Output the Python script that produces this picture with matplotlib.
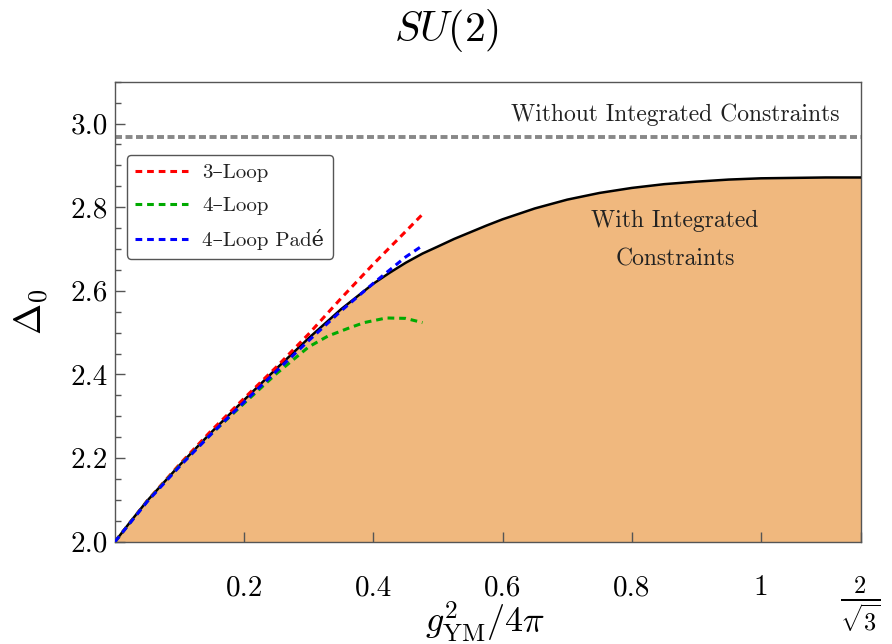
import matplotlib
matplotlib.use('Agg')
import matplotlib.pyplot as plt
from matplotlib.ticker import FixedLocator, FixedFormatter, MultipleLocator

plt.rcParams['mathtext.fontset'] = 'cm'
plt.rcParams['font.family'] = ['cmr10', 'DejaVu Serif']
plt.rcParams['axes.formatter.use_mathtext'] = True

# ---- data ----
g_bound = [0.0, 0.025, 0.05, 0.1, 0.15, 0.2, 0.25, 0.3, 0.35, 0.4, 0.425, 0.45, 0.476, 0.5,
           0.525, 0.55, 0.575, 0.6, 0.65, 0.7, 0.75, 0.8, 0.85, 0.9, 0.95, 1.0, 1.05,
           1.1, 1.1547]
delta_bound = [2.0, 2.050, 2.098, 2.183, 2.263, 2.339, 2.414, 2.487, 2.556, 2.617, 2.643,
               2.667, 2.689, 2.706, 2.724, 2.740, 2.756, 2.771, 2.797, 2.818, 2.834,
               2.846, 2.855, 2.861, 2.866, 2.869, 2.870, 2.871, 2.871]

g_3loop = [0.0, 0.05, 0.1, 0.15, 0.2, 0.25, 0.3, 0.35, 0.4, 0.45, 0.476]
delta_3loop = [2.0, 2.098, 2.185, 2.267, 2.343, 2.418, 2.497, 2.582, 2.664, 2.742, 2.783]

g_4loop = [0.0, 0.05, 0.1, 0.15, 0.2, 0.25, 0.3, 0.33, 0.364, 0.386, 0.42, 0.45, 0.476]
delta_4loop = [2.0, 2.097, 2.182, 2.259, 2.331, 2.402, 2.466, 2.492, 2.512, 2.524,
               2.535, 2.534, 2.524]

g_pade = [0.0, 0.05, 0.1, 0.15, 0.2, 0.25, 0.3, 0.35, 0.4, 0.45, 0.476]
delta_pade = [2.0, 2.096, 2.180, 2.259, 2.334, 2.408, 2.481, 2.552, 2.618, 2.681, 2.708]

delta_no_constraints = 2.968

x_ticks = [0.2, 0.4, 0.6, 0.8, 1.0, 1.1547]
x_ticklabels = ["0.2", "0.4", "0.6", "0.8", "1", r"$\frac{2}{\sqrt{3}}$"]
y_ticks = [2.0, 2.2, 2.4, 2.6, 2.8, 3.0]
y_ticklabels = ["2.0", "2.2", "2.4", "2.6", "2.8", "3.0"]
legend_labels = ["3\u2013Loop", "4\u2013Loop", "4\u2013Loop Pad\u00e9"]

# ---- figure ----
fig = plt.figure(figsize=(8.92, 6.44), dpi=100)
ax = fig.add_axes([0.1289, 0.1589, 0.8363, 0.7142])

fill_color = '#F0B87E'
ax.fill_between(g_bound, 2.0, delta_bound, color=fill_color, lw=0, zorder=1)
ax.plot(g_bound, delta_bound, color='black', lw=1.8, zorder=3, solid_joinstyle='round')

ax.axhline(delta_no_constraints, color='#888888', lw=2.8, dashes=(1.8, 0.9), zorder=2)

l3, = ax.plot(g_3loop, delta_3loop, color='#FF0000', lw=2.2, dashes=(2.2, 1.6), zorder=4)
l4, = ax.plot(g_4loop, delta_4loop, color='#00AA00', lw=2.2, dashes=(2.2, 1.6), zorder=4)
lp, = ax.plot(g_pade, delta_pade, color='#0000FF', lw=2.2, dashes=(2.2, 1.6), zorder=5)

ax.set_xlim(0, 1.1547)
ax.set_ylim(2.0, 3.1)

ax.xaxis.set_major_locator(FixedLocator(x_ticks))
ax.xaxis.set_major_formatter(FixedFormatter(x_ticklabels))
ax.yaxis.set_major_locator(FixedLocator(y_ticks))
ax.yaxis.set_major_formatter(FixedFormatter(y_ticklabels))
ax.yaxis.set_minor_locator(MultipleLocator(0.05))

ax.tick_params(axis='both', which='both', direction='in', top=False, right=False,
               color='#555555', width=1.0)
ax.tick_params(axis='y', which='major', length=7, labelsize=21, pad=5)
ax.tick_params(axis='y', which='minor', length=4)
ax.tick_params(axis='x', which='major', length=7, labelsize=21, pad=24)

for s in ax.spines.values():
    s.set_color('#555555')
    s.set_linewidth(1.0)

ax.text(0.867, 3.022, "Without Integrated Constraints", fontsize=17,
        ha='center', va='center', color='#222222')
ax.text(0.867, 2.767, "With Integrated", fontsize=17, ha='center', va='center',
        color='#222222')
ax.text(0.867, 2.676, "Constraints", fontsize=17, ha='center', va='center',
        color='#222222')

leg = ax.legend([l3, l4, lp], legend_labels, loc='upper left',
                bbox_to_anchor=(0.0157, 0.8407), borderaxespad=0, fontsize=15,
                handlelength=2.5, handletextpad=0.7, borderpad=0.42, labelspacing=0.67,
                fancybox=True, framealpha=1, edgecolor='#555555')
leg.get_frame().set_linewidth(1.0)
for t in leg.get_texts():
    t.set_color('#222222')

ax.set_ylabel(r"$\Delta_0$", fontsize=27, labelpad=14)
fig.text(0.544, 0.034, r"$g^2_{\rm YM}/4\pi$", fontsize=26, ha='center', va='center')
fig.text(0.501, 0.953, r"$SU(2)$", fontsize=30, ha='center', va='center')

fig.canvas.draw()
ax.xaxis.get_major_ticks()[-1].label1.set_fontsize(25)

fig.savefig('out.png', dpi=100)
